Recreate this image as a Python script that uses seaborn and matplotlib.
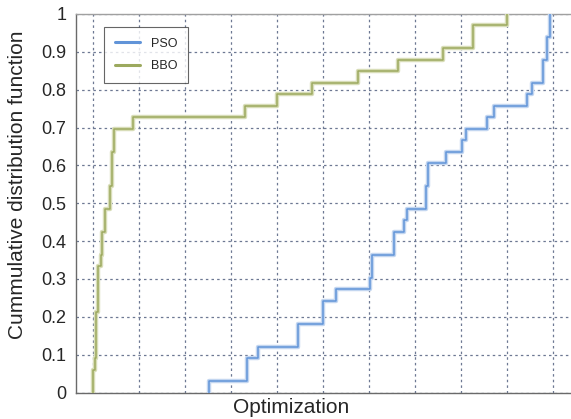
import numpy as np
import pandas as pd
import seaborn as sns
import matplotlib
matplotlib.use("Agg")
import matplotlib.pyplot as plt
from matplotlib.lines import Line2D

# ---- data (sample values read from the stair steps; 33 runs each) ----
pso_values = [2.52, 3.35, 3.35, 3.59, 4.46, 4.46, 5.00, 5.00, 5.28, 6.02,
              6.07, 6.07, 6.54, 6.54, 6.76, 6.82, 7.23, 7.23, 7.28, 7.28,
              7.67, 8.02, 8.11, 8.56, 8.72, 9.43, 9.54, 9.79, 9.79, 9.88,
              9.88, 9.93, 9.93]
bbo_values = [0.00, 0.00, 0.04, 0.065, 0.065, 0.065, 0.065, 0.10, 0.10, 0.10,
              0.10, 0.17, 0.20, 0.20, 0.25, 0.25, 0.38, 0.38, 0.42, 0.42,
              0.42, 0.46, 0.46, 0.87, 3.30, 4.00, 4.76, 5.76, 6.63, 7.61,
              8.26, 8.26, 9.00]
series_names = ["PSO", "BBO"]
y_ticks = [0, 0.1, 0.2, 0.3, 0.4, 0.5, 0.6, 0.7, 0.8, 0.9, 1]
y_tick_labels = ["0", "0.1", "0.2", "0.3", "0.4", "0.5", "0.6", "0.7", "0.8", "0.9", "1"]
x_ticks = list(range(0, 11))

df = pd.DataFrame({
    "value": pso_values + bbo_values,
    "algo": ["PSO"] * len(pso_values) + ["BBO"] * len(bbo_values),
})

sns.set_style("white")
plt.rcParams["font.family"] = ["Liberation Sans", "DejaVu Sans"]

colors = {"PSO": "#6194d8", "BBO": "#9ca95e"}
halo = {"PSO": "#c3d6f0", "BBO": "#d8ddb8"}

W, H = 571, 419
ax_left, ax_right, ax_top, ax_bot = 76, 600, 14, 392.5

fig = plt.figure(figsize=(W / 100, H / 100), dpi=100)
ax = fig.add_axes([ax_left / W, (H - ax_bot) / H, (ax_right - ax_left) / W, (ax_bot - ax_top) / H])

for name in series_names:
    sub = df[df["algo"] == name]
    sns.ecdfplot(data=sub, x="value", ax=ax, color=halo[name], lw=3.2, zorder=3)
    sns.ecdfplot(data=sub, x="value", ax=ax, color=colors[name], lw=1.1, zorder=4)

ax.set_xlim(-0.37, (ax_right - 93) / 46)
ax.set_ylim(0, 1)
ax.set_xticks(x_ticks)
ax.set_xticklabels([])
ax.set_yticks(y_ticks)
ax.set_yticklabels(y_tick_labels, fontsize=13)
ax.tick_params(axis="both", length=0, pad=7)
ax.grid(True, color="#6d7893", linestyle=(0, (2, 2.5)), linewidth=0.9)
for s in ["top", "bottom", "left", "right"]:
    ax.spines[s].set_color("#6a6a6a")
    ax.spines[s].set_linewidth(1.0)
ax.spines["top"].set_color("#a0a0a0")

aw = ax_right - ax_left
ah = ax_bot - ax_top
ax.set_xlabel("Optimization", fontsize=15)
ax.xaxis.set_label_coords((291 - ax_left) / aw, -(407 - ax_bot) / ah)
ax.xaxis.label.set_va("center")
ax.set_ylabel("Cummulative distribution function", fontsize=15)
ax.yaxis.set_label_coords((18 - ax_left) / aw, (ax_bot - 185) / ah)
ax.yaxis.label.set_va("center")

handles = [Line2D([], [], color=colors["PSO"], lw=2.2), Line2D([], [], color=colors["BBO"], lw=2.2)]
leg = ax.legend(handles, series_names, loc="upper left",
                bbox_to_anchor=(104 / W, (H - 27) / H), bbox_transform=fig.transFigure,
                borderaxespad=0, frameon=True, fancybox=False, fontsize=9,
                handlelength=2.0, borderpad=0.85, labelspacing=0.85, handletextpad=0.9)
leg.get_frame().set_edgecolor("#404040")
leg.get_frame().set_linewidth(0.8)

fig.savefig("out.png", dpi=100, facecolor="white")
